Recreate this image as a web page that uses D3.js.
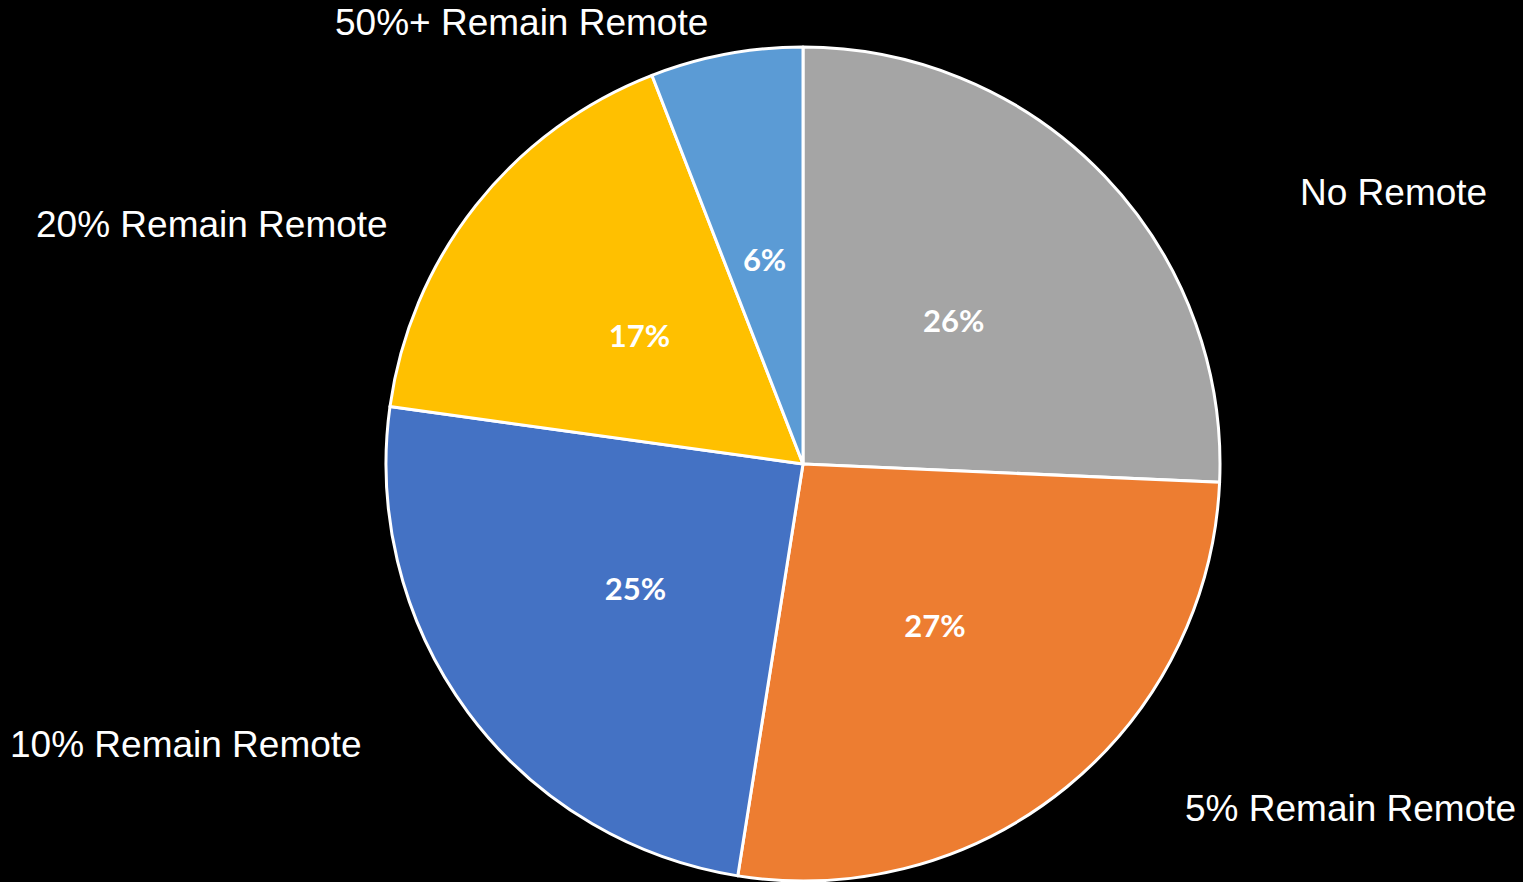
<!DOCTYPE html>
<html>
<head>
<meta charset="utf-8">
<script src="https://cdn.jsdelivr.net/npm/d3@7"></script>
<style>
  html, body { margin: 0; padding: 0; background: #000; }
  svg { display: block; }
</style>
</head>
<body>
<svg id="chart" width="1523" height="882"></svg>
<script>
const categories = ["No Remote", "5% Remain Remote", "10% Remain Remote", "20% Remain Remote", "50%+ Remain Remote"];
const values = [25.7, 26.8, 24.7, 16.9, 5.9];
const pctLabels = ["26%", "27%", "25%", "17%", "6%"];
const colors = ["#A5A5A5", "#ED7D31", "#4472C4", "#FFC000", "#5B9BD5"];

// layout for outer category labels (left x, baseline y)
const labelLayout = [
  { x: 1300, y: 205 },
  { x: 1185, y: 821 },
  { x: 10, y: 757 },
  { x: 36, y: 237 },
  { x: 335, y: 35 }
];

const W = 1523, H = 882;
const cx = 803, cy = 464, R = 417;
const svg = d3.select("#chart");
svg.append("rect").attr("width", W).attr("height", H).attr("fill", "#000");

const pie = d3.pie().sort(null).value(d => d);
const arcs = pie(values);
const arc = d3.arc().innerRadius(0).outerRadius(R);
const labelArc = d3.arc().innerRadius(R * 0.5).outerRadius(R * 0.5);

const g = svg.append("g").attr("transform", `translate(${cx},${cy})`);
g.selectAll("path").data(arcs).join("path")
  .attr("d", arc)
  .attr("fill", (d, i) => colors[i])
  .attr("stroke", "#fff")
  .attr("stroke-width", 3)
  .attr("stroke-linejoin", "round");

g.selectAll("text.pct").data(arcs).join("text")
  .attr("class", "pct")
  .attr("transform", d => { const c = labelArc.centroid(d); return `translate(${c[0]},${c[1]})`; })
  .attr("text-anchor", "middle")
  .attr("dominant-baseline", "central")
  .attr("fill", "#fff")
  .attr("font-family", "Lato, 'Open Sans', sans-serif")
  .attr("font-weight", 700)
  .attr("font-size", 31)
  .text((d, i) => pctLabels[i]);

svg.selectAll("text.cat").data(categories).join("text")
  .attr("class", "cat")
  .attr("x", (d, i) => labelLayout[i].x)
  .attr("y", (d, i) => labelLayout[i].y)
  .attr("fill", "#fff")
  .attr("font-family", "'Liberation Sans', Arial, sans-serif")
  .attr("font-size", 37)
  .text(d => d);
</script>
</body>
</html>
